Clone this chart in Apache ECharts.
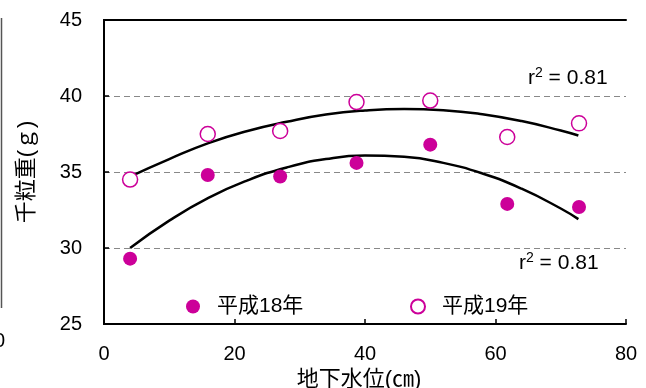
<!DOCTYPE html>
<html><head><meta charset="utf-8">
<script src="https://cdn.jsdelivr.net/npm/echarts@6/dist/echarts.min.js"></script>
<style>html,body{margin:0;padding:0;background:#fff}#c{width:646px;height:388px}</style>
</head><body><div id="c"></div>
<script>
// Data
const waterLevel = [4, 15.9, 27, 38.7, 50, 61.8, 72.8];
const weightH18 = [29.3, 34.8, 34.7, 35.6, 36.8, 32.9, 32.7];
const weightH19 = [34.5, 37.5, 37.7, 39.6, 39.7, 37.3, 38.2];
// Trend curves
const trendX = [4, 10, 16, 22, 28, 34, 40, 46, 52, 58, 64, 70, 72.7];
const trendH18 = [30.0, 31.8, 33.3, 34.45, 35.3, 35.85, 36.08, 36.0, 35.6, 34.9, 33.9, 32.6, 31.9];
const trendH19 = [34.7, 35.85, 36.9, 37.7, 38.3, 38.78, 39.05, 39.15, 39.07, 38.8, 38.35, 37.73, 37.4];
const xTicks = {min: 0, max: 80, interval: 20};
const yTicks = {min: 25, max: 45, interval: 5};
const seriesNames = ['平成18年', '平成19年'];
const r2Labels = ['0.81', '0.81'];

const FONT = "'Liberation Sans','Noto Sans CJK JP',sans-serif";
const MAG = '#CC0099';
const pair = (xs, ys) => xs.map((x, i) => [x, ys[i]]);

const chart = echarts.init(document.getElementById('c'));
chart.setOption({
  animation: false,
  grid: {left: 104, right: 20, top: 20, bottom: 64, containLabel: false, outerBoundsMode: 'none'},
  xAxis: [{
    type: 'value', min: xTicks.min, max: xTicks.max, interval: xTicks.interval,
    axisLine: {lineStyle: {color: '#000', width: 2}},
    axisTick: {show: true, inside: true, length: 5, lineStyle: {color: '#000', width: 1.5}},
    axisLabel: {color: '#000', fontSize: 20, fontFamily: FONT, margin: 20},
    splitLine: {show: false},
    name: '地下水位(㎝)', nameLocation: 'middle', nameGap: 40,
    nameTextStyle: {color: '#000', fontSize: 22, fontFamily: FONT, padding: [0, 0, 0, -12]}
  }, {
    type: 'value', position: 'top', min: xTicks.min, max: xTicks.max,
    axisLine: {lineStyle: {color: '#000', width: 2}},
    axisTick: {show: false}, axisLabel: {show: false}, splitLine: {show: false}
  }],
  yAxis: [{
    type: 'value', min: yTicks.min, max: yTicks.max, interval: yTicks.interval,
    axisLine: {show: true, lineStyle: {color: '#000', width: 2}},
    axisTick: {show: true, inside: true, length: 5, lineStyle: {color: '#000', width: 1.5}},
    axisLabel: {color: '#000', fontSize: 20, fontFamily: FONT, margin: 22},
    splitLine: {show: true, lineStyle: {color: '#888', type: [6, 4], width: 1}},
    name: '千粒重(ｇ)', nameLocation: 'middle', nameGap: 66, nameRotate: 90,
    nameTextStyle: {color: '#000', fontSize: 22, fontFamily: FONT}
  }, {
    type: 'value', position: 'right', min: yTicks.min, max: yTicks.max,
    axisLine: {show: true, lineStyle: {color: '#000', width: 2}},
    axisTick: {show: false}, axisLabel: {show: false}, splitLine: {show: false}
  }],
  legend: [{
    data: [seriesNames[0]], left: 181, top: 291, itemWidth: 14, itemHeight: 14,
    textStyle: {color: '#000', fontSize: 21, fontFamily: FONT, padding: [0, 0, 0, 12]}
  }, {
    data: [seriesNames[1]], left: 405, top: 291, itemWidth: 14, itemHeight: 14,
    textStyle: {color: '#000', fontSize: 21, fontFamily: FONT, padding: [0, 0, 0, 12]}
  }],
  series: [
    {name: 'trend18', type: 'line', smooth: true, showSymbol: false, symbol: 'none',
     data: pair(trendX, trendH18), lineStyle: {color: '#000', width: 2.5}, z: 2},
    {name: 'trend19', type: 'line', smooth: true, showSymbol: false, symbol: 'none',
     data: pair(trendX, trendH19), lineStyle: {color: '#000', width: 2.5}, z: 2},
    {name: seriesNames[0], type: 'scatter', symbol: 'circle', symbolSize: 14,
     data: pair(waterLevel, weightH18), itemStyle: {color: MAG, opacity: 1}, z: 3},
    {name: seriesNames[1], type: 'scatter', symbol: 'circle', symbolSize: 15,
     data: pair(waterLevel, weightH19),
     itemStyle: {color: '#fff', borderColor: MAG, borderWidth: 1.5, opacity: 1}, z: 3}
  ],
  graphic: [
    {type: 'text', left: 528, top: 66, z: 10,
     style: {rich: {a: {fontSize: 21, fontFamily: FONT, fill: '#000'},
                    s: {fontSize: 14, fontFamily: FONT, fill: '#000', padding: [0, 0, 10, 0]}},
             text: '{a|r}{s|2}{a| = ' + r2Labels[0] + '}'}},
    {type: 'text', left: 519, top: 251, z: 10,
     style: {rich: {a: {fontSize: 21, fontFamily: FONT, fill: '#000'},
                    s: {fontSize: 14, fontFamily: FONT, fill: '#000', padding: [0, 0, 10, 0]}},
             text: '{a|r}{s|2}{a| = ' + r2Labels[1] + '}'}},
    // fragment of neighbouring chart at the left edge
    {type: 'line', shape: {x1: 1.5, y1: 18, x2: 1.5, y2: 308}, style: {stroke: '#555', lineWidth: 1.5}},
    {type: 'text', left: -6, top: 331, style: {text: '0', fontSize: 20, fontFamily: FONT, fill: '#000'}}
  ]
});
</script></body></html>
